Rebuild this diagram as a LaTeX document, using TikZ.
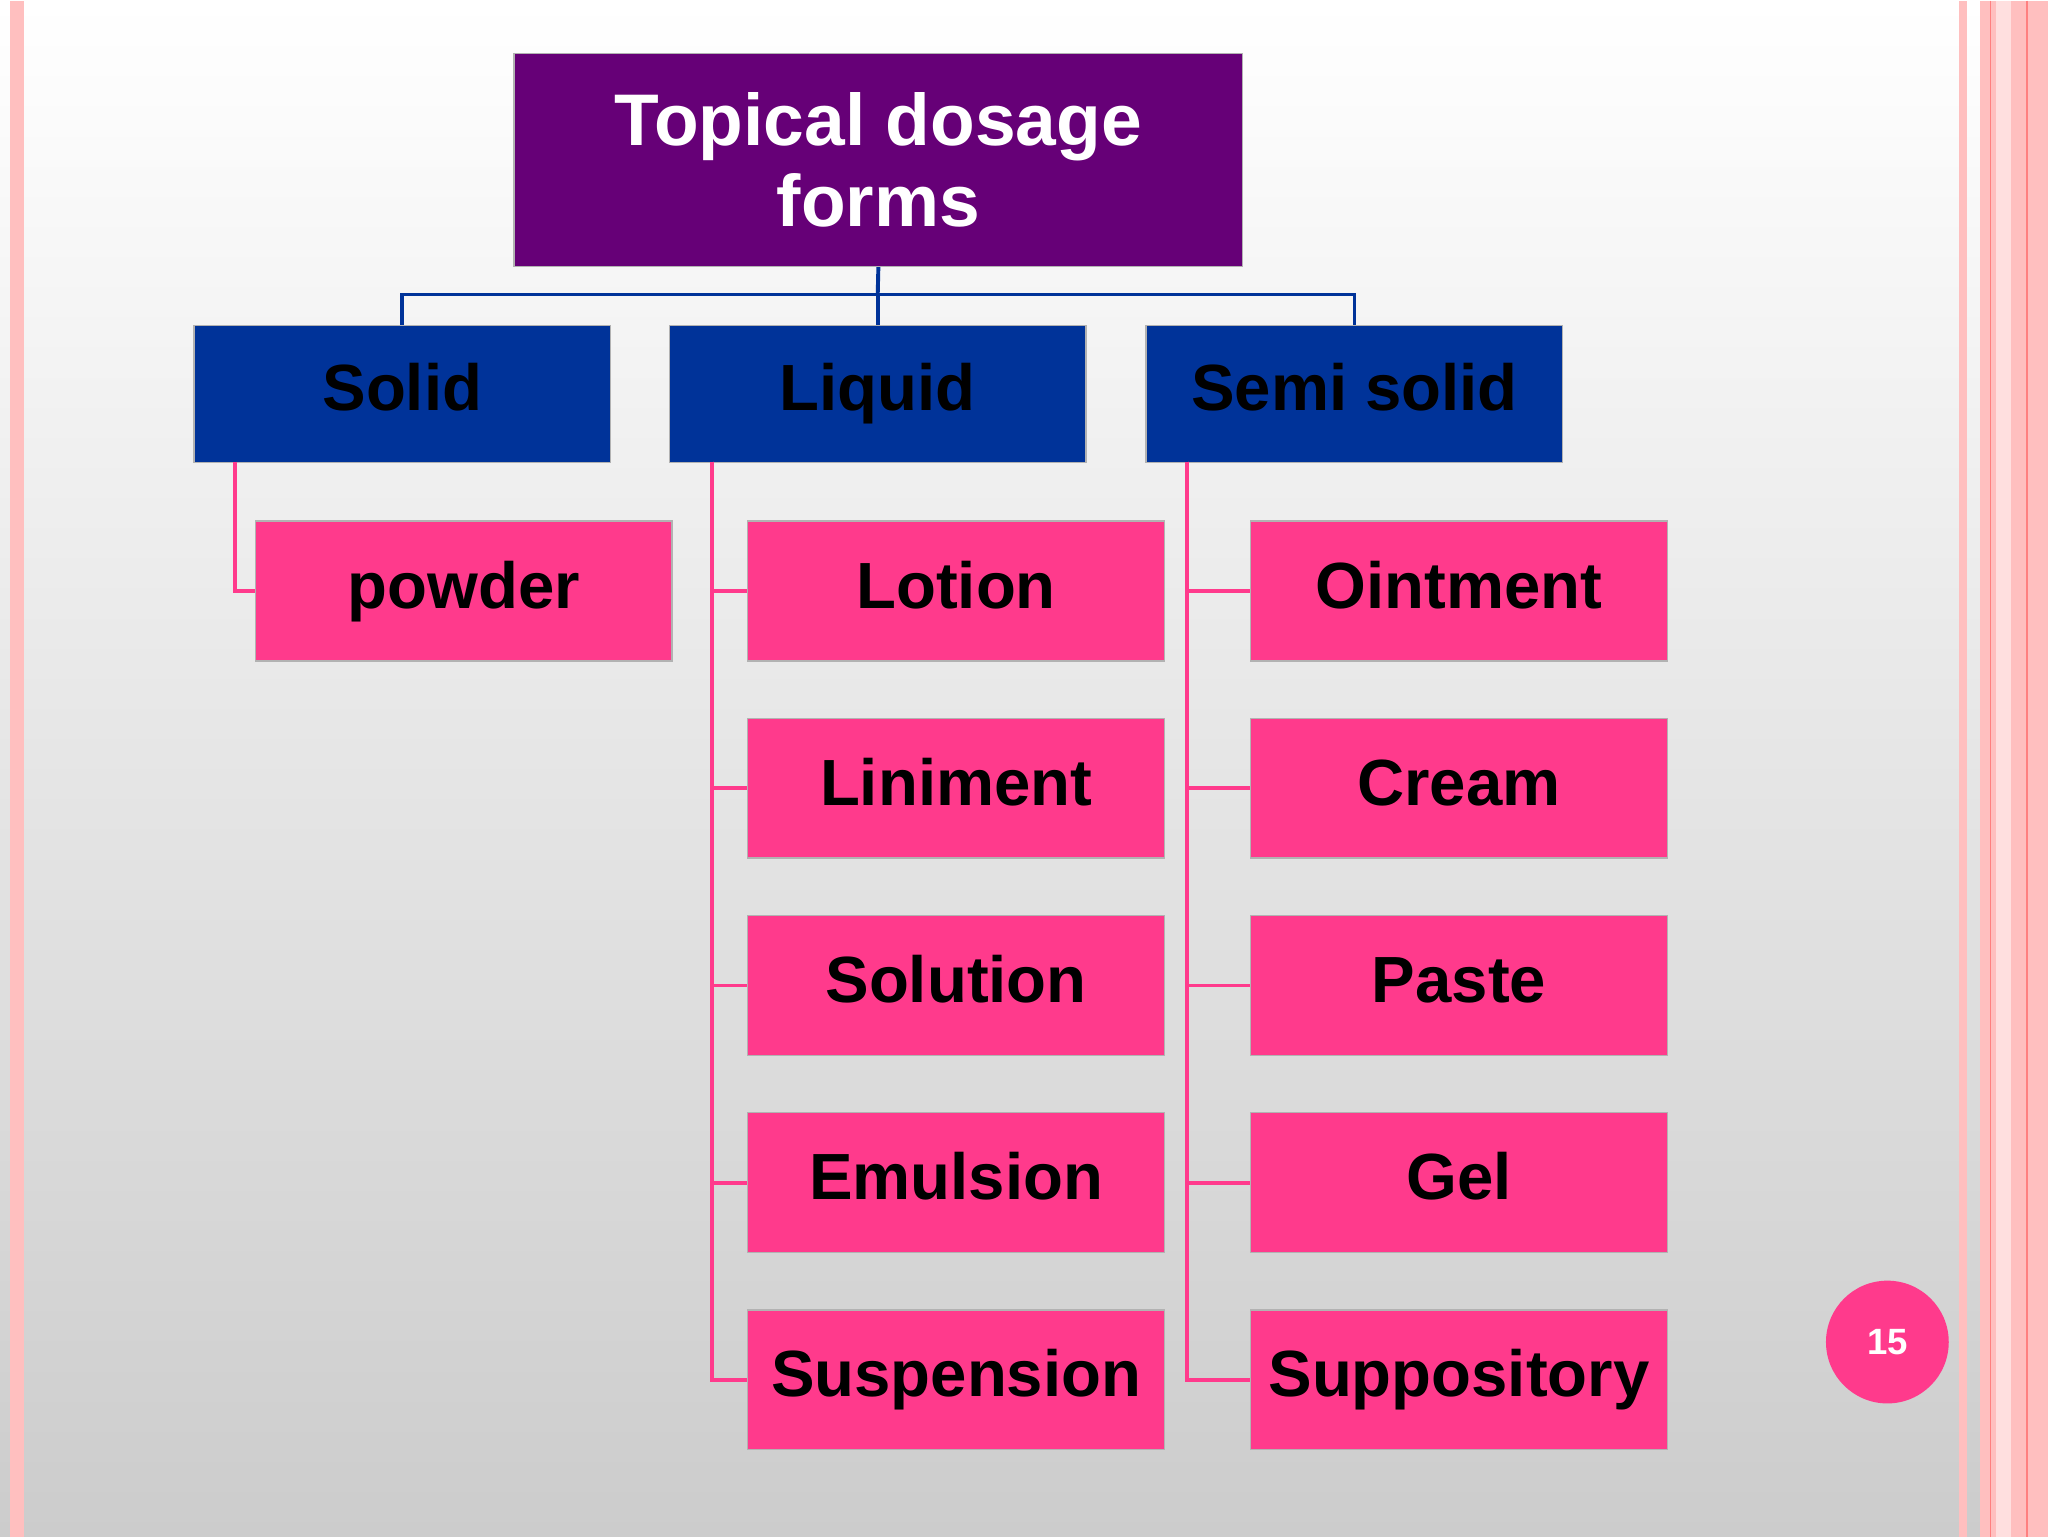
\documentclass[tikz,border=0pt]{standalone}
\usepackage{fontspec}
\setmainfont{Liberation Sans}
\begin{document}
\begin{tikzpicture}[x=1pt,y=-1pt,
  bx/.style={draw=gray!60,line width=1pt,anchor=north west,inner sep=0pt,text height=36pt,text depth=10pt,font=\fontsize{50}{54}\selectfont\bfseries},
  top/.style={draw=gray!60,line width=1pt,anchor=north west,fill={rgb,255:red,102;green,0;blue,119},text=white,font=\fontsize{56}{62}\selectfont\bfseries,align=center},
  mid/.style={bx,fill={rgb,255:red,0;green,51;blue,153},minimum width=319pt,minimum height=105pt},
  leaf/.style={bx,fill={rgb,255:red,255;green,58;blue,140},minimum width=319pt,minimum height=107pt},
  bl/.style={draw={rgb,255:red,0;green,51;blue,153},line width=3pt},
  pl/.style={draw={rgb,255:red,255;green,58;blue,140},line width=3pt}]
\shade[top color=white,bottom color=gray!40] (0,0) rectangle (1568,1176);
\fill[pink] (8,0) rectangle (18,1176);
\fill[pink] (1500,0) rectangle (1506,1176);
\fill[pink] (1516,0) rectangle (1568,1176);
\fill[pink!50] (1528,0) rectangle (1540,1176);
\draw[red!50,line width=1pt] (1524,0)--(1524,1176) (1552,0)--(1552,1176);
\node[top,minimum width=558pt,minimum height=163pt] (t) at (393,40) {Topical dosage\\forms};
\node[mid] (s) at (148,248) {Solid};
\node[mid] (l) at (512,248) {Liquid};
\node[mid] (ss) at (877,248) {Semi solid};
\coordinate (j) at (672,225);
\draw[bl] (t.south) -- (j);
\draw[bl] (s.north) |- (j) -| (ss.north);
\draw[bl] (j) -- (l.north);
\node[leaf] (p) at (195,398) {powder};
\draw[pl] (180,353) |- (p.west);
\foreach \n/\tA/\tB [count=\i from 0] in {a/Lotion/Ointment,b/Liniment/Cream,c/Solution/Paste,d/Emulsion/Gel,e/Suspension/Suppository}{
  \node[leaf] (L\n) at (572,398+151*\i) {\tA};
  \node[leaf] (S\n) at (957,398+151*\i) {\tB};
  \draw[pl] (545,353) |- (L\n.west);
  \draw[pl] (909,353) |- (S\n.west);
}
\node[circle,fill={rgb,255:red,255;green,58;blue,140},minimum size=94pt,text=white,font=\fontsize{28}{30}\selectfont\bfseries] (n) at (1445,1027) {15};
\end{tikzpicture}
\end{document}
